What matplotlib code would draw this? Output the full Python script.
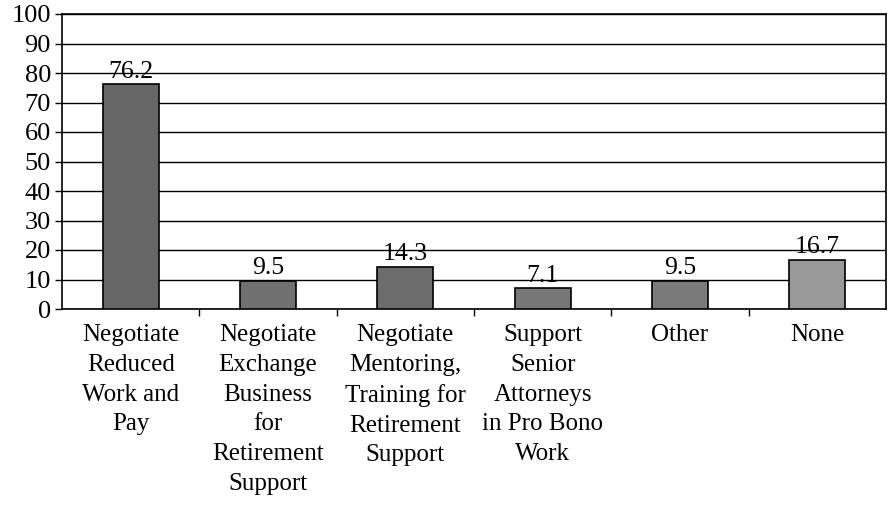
import matplotlib
matplotlib.use("Agg")
import matplotlib.pyplot as plt

categories = [
    "Negotiate\nReduced\nWork and\nPay",
    "Negotiate\nExchange\nBusiness\nfor\nRetirement\nSupport",
    "Negotiate\nMentoring,\nTraining for\nRetirement\nSupport",
    "Support\nSenior\nAttorneys\nin Pro Bono\nWork",
    "Other",
    "None",
]
values = [76.2, 9.5, 14.3, 7.1, 9.5, 16.7]
value_labels = ["76.2", "9.5", "14.3", "7.1", "9.5", "16.7"]
colors = ["#666666", "#707070", "#6c6c6c", "#777777", "#7a7a7a", "#999999"]

plt.rcParams['font.family'] = ['Liberation Serif', 'DejaVu Serif']

fig = plt.figure(figsize=(8.9, 5.08), dpi=100)
ax = fig.add_axes([62/890, 1-309/508, (886-62)/890, (309-14)/508])

x = list(range(len(values)))
ax.bar(x, values, width=0.41, color=colors, edgecolor="black", linewidth=1.2, zorder=3)
for xi, v, lab in zip(x, values, value_labels):
    ax.text(xi, v + 0.5, lab, ha="center", va="bottom", fontsize=18.5, zorder=4)

ax.set_xlim(-0.5, len(values) - 0.5)
ax.set_ylim(0, 100)
ax.set_yticks(range(0, 101, 10))
ax.tick_params(axis="y", labelsize=19, length=5, width=1, direction="out", pad=3)
ax.yaxis.grid(True, color="black", linewidth=1)
ax.set_axisbelow(True)

ax.set_xticks([i + 0.5 for i in range(len(values) - 1)], minor=False)
ax.set_xticklabels([])
ax.tick_params(axis="x", length=5, width=1, direction="out")
ax.set_xticks(x, minor=True)
ax.set_xticklabels(categories, minor=True, fontsize=18, linespacing=1.45, va="top")
ax.tick_params(axis="x", which="minor", length=0, pad=11)

for s in ax.spines.values():
    s.set_color("black")
    s.set_linewidth(1.2)

fig.savefig("out.png", dpi=100)
